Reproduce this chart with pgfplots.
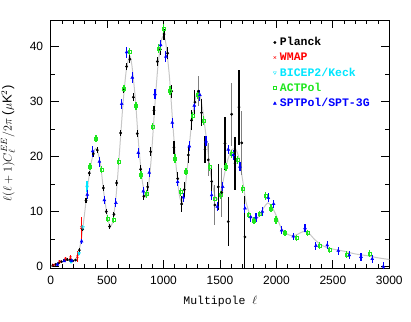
\documentclass[border=0pt]{standalone}
\usepackage{pgfplots}
\pgfplotsset{compat=1.18}
\usepackage{fontspec}
\setmainfont{Liberation Sans}
\setmonofont{Liberation Mono}
\definecolor{actgreen}{RGB}{30,230,30}
\definecolor{bkcyan}{RGB}{0,230,255}
\definecolor{theory}{gray}{0.78}
\definecolor{planckgray}{gray}{0.5}

\begin{document}
\begin{tikzpicture}
\path[use as bounding box] (-50.7pt,-53pt) rectangle (360.3pt,268pt);
\begin{axis}[
    scale only axis,
    width=338.6pt, height=248pt,
    xmin=0, xmax=3000, ymin=-0.25, ymax=44.85,
    xtick={0,500,...,3000}, minor x tick num=4,
    ytick={0,10,...,40}, minor y tick num=1,
    tick pos=both, tick align=inside,
    major tick length=8pt, minor tick length=4pt,
    axis line style={line width=0.9pt},
    every tick/.style={black, line width=0.8pt},
    /pgf/number format/assume math mode=true,
    /pgf/number format/set thousands separator={},
    scaled ticks=false,
    xticklabel style={font=\fontsize{12}{12}\selectfont, yshift=-5pt},
    yticklabel style={font=\fontsize{12}{12}\selectfont, xshift=-4pt},
    xlabel={\ttfamily Multipole $\ell$},
    xlabel style={font=\fontsize{11.5}{12}\selectfont, at={(axis description cs:0.501,-0.137)}, anchor=center},
    ylabel={$\ell(\ell+1)C_\ell^{EE}/2\pi$ ($\mu$K$^2$)},
    ylabel style={font=\fontsize{13}{13}\selectfont, at={(axis description cs:-0.126,0.502)}, anchor=center},
    legend style={draw=none, fill=none, at={(axis description cs:0.648,0.944)}, anchor=north west,
        font=\ttfamily\bfseries\fontsize{11.5}{12}\selectfont, row sep=2.6pt,
        nodes={inner sep=1.5pt}},
    legend cell align=left,
    legend image code/.code={\draw[#1] plot coordinates {(0cm,0cm)}; \path (0.12cm,0cm);},
    error bars/error bar style={line width=1.1pt},
]

% theory EE spectrum
\addplot[theory, line width=1pt, smooth, tension=0.4, forget plot] coordinates {
(2,0.05) (30,0.3) (60,0.5) (100,0.9) (140,1.2) (180,1.15) (210,1.1) (240,2.0)
(270,4.8) (300,9.6) (330,15.0) (360,19.0) (390,21.3) (410,21.3) (440,18.8)
(470,13.5) (500,9.3) (525,7.4) (550,8.2) (580,13.0) (610,21.0) (640,29.5)
(670,35.8) (700,38.3) (720,36.5) (750,30.5) (780,22.0) (810,15.8) (840,12.7)
(860,13.5) (890,19.5) (920,28.5) (950,36.5) (980,41.0) (1000,42.0) (1020,40.6)
(1050,35.0) (1080,26.5) (1110,18.5) (1140,13.0) (1165,11.6) (1190,14.0)
(1220,20.0) (1250,26.5) (1290,31.3) (1320,31.5) (1350,28.0) (1390,21.5)
(1420,16.5) (1460,12.5) (1490,12.5) (1520,14.8) (1560,18.8) (1600,21.2)
(1640,21.3) (1670,19.6) (1700,15.8) (1730,11.8) (1770,9.2) (1810,8.5)
(1850,9.3) (1890,10.8) (1925,11.6) (1960,10.9) (2000,9.2) (2040,7.1)
(2090,6.0) (2140,5.6) (2190,5.9) (2240,6.4) (2290,6.0) (2340,4.9)
(2400,3.9) (2460,3.4) (2520,3.1) (2600,2.8) (2700,2.3) (2800,2.0)
(2900,1.6) (3000,1.3)
};

% Planck
\addplot[black, only marks, mark=*, mark size=1.2pt,
    error bars/.cd, y dir=both, y explicit, error mark=none] coordinates {
(20,0.25) +- (0,0.15) (45,0.4) +- (0,0.15) (70,0.65) +- (0,0.15) (95,0.9) +- (0,0.2)
(120,1.2) +- (0,0.2) (145,1.3) +- (0,0.2) (170,1.15) +- (0,0.2) (195,1.05) +- (0,0.2)
(220,1.2) +- (0,0.25) (254,3.0) +- (0,0.3) (283,6.8) +- (0,0.35) (313,12.0) +- (0,0.4)
(342,17.0) +- (0,0.45) (378,20.5) +- (0,0.5) (413,21.2) +- (0,0.5) (466,14.3) +- (0,0.5)
(493,10.0) +- (0,0.5) (522,7.3) +- (0,0.5) (560,9.5) +- (0,0.5) (584,15.2) +- (0,0.5)
(620,24.3) +- (0,0.6) (643,32.1) +- (0,0.6) (673,36.4) +- (0,0.7) (702,37.7) +- (0,0.7)
(732,30.8) +- (0,0.7) (767,24.2) +- (0,0.7) (797,17.7) +- (0,0.7) (826,12.8) +- (0,0.7)
(859,14.5) +- (0,0.8) (886,20.9) +- (0,0.8) (915,28.4) +- (0,0.9) (945,37.3) +- (0,0.9)
(971,39.5) +- (0,1.0) (1004,42.3) +- (0,1.0) (1036,38.8) +- (0,1.1) (1072,31.9) +- (0,1.2)
(1092,21.7) +- (0,1.2) (1125,16.0) +- (0,1.2) (1160,11.4) +- (0,1.5) (1184,14.0) +- (0,1.3)
(1219,20.3) +- (0,1.5) (1248,26.6) +- (0,1.8) (1278,29.9) +- (0,2.2) (1337,28.0) +- (0,2.4)
(1367,21.3) +- (0,2.5) (1426,15.5) +- (0,3.0) (1485,14.5) +- (0,4.2) (1544,22.4) +- (0,4.8)
(1573,8.2) +- (0,4.5) (1633,18.8) +- (0,4.8) (1668,29.0) +- (0,6.8) (1721,5.4) +- (0,7.5)
};
\addlegendentry{Planck}

% WMAP
\addplot[red, only marks, mark=x, mark size=1.8pt,
    error bars/.cd, y dir=both, y explicit, error mark=none] coordinates {
(25,0.3) +- (0,0.2) (80,0.9) +- (0,0.3) (130,1.4) +- (0,0.35) (175,1.6) +- (0,0.5)
(236,1.8) +- (0,1.0) (272,7.1) +- (0,2.0)
};
\addlegendentry{\textcolor{red}{WMAP}}

% BICEP2/Keck
\addplot[bkcyan, only marks, mark=triangle, mark size=1.8pt, mark options={rotate=180},
    error bars/.cd, y dir=both, y explicit, error mark=none] coordinates {
(180,0.9) +- (0,0.2) (251,2.4) +- (0,0.3) (285,7.1) +- (0,0.4) (322,14.5) +- (0,1.0)
};
\addlegendentry{\textcolor{bkcyan}{BICEP2/Keck}}

% ACTPol
\addplot[actgreen, only marks, mark=square, mark size=1.5pt,
    error bars/.cd, y dir=both, y explicit, error mark=none] coordinates {
(348,18.2) +- (0,0.6) (401,23.3) +- (0,0.6) (452,17.7) +- (0,0.6) (502,8.7) +- (0,0.6)
(554,8.5) +- (0,0.6) (599,19.1) +- (0,0.6) (649,32.4) +- (0,0.7) (702,39.1) +- (0,0.7)
(756,29.2) +- (0,0.7) (800,16.7) +- (0,0.7) (850,13.2) +- (0,0.7) (903,25.5) +- (0,0.7)
(953,39.7) +- (0,0.8) (998,43.3) +- (0,0.8) (1057,32.0) +- (0,0.8) (1101,19.7) +- (0,0.8)
(1152,13.6) +- (0,0.7) (1199,17.3) +- (0,0.7) (1254,27.4) +- (0,0.8) (1302,31.2) +- (0,0.8)
(1352,26.6) +- (0,0.8) (1405,18.1) +- (0,0.7) (1455,12.4) +- (0,0.7) (1506,13.0) +- (0,0.7)
(1553,18.1) +- (0,0.7) (1603,20.5) +- (0,0.7) (1653,19.4) +- (0,0.7) (1697,14.1) +- (0,0.7)
(1751,9.4) +- (0,0.6) (1801,8.4) +- (0,0.6) (1848,9.6) +- (0,0.6) (1902,12.9) +- (0,0.7)
(1952,10.6) +- (0,0.7) (1996,8.5) +- (0,0.7) (2076,6.1) +- (0,0.6) (2176,5.2) +- (0,0.6)
(2275,6.1) +- (0,0.6) (2380,3.8) +- (0,0.6) (2474,3.0) +- (0,0.6) (2622,2.2) +- (0,0.6)
(2823,2.4) +- (0,0.6)
};
\addlegendentry{\textcolor{actgreen}{ACTPol}}

% SPTPol / SPT-3G
\addplot[blue, only marks, mark=triangle*, mark size=1.7pt,
    error bars/.cd, y dir=both, y explicit, error mark=none] coordinates {
(60,0.4) +- (0,0.2) (120,1.0) +- (0,0.2) (186,1.1) +- (0,0.25) (274,4.6) +- (0,0.4)
(324,13.1) +- (0,0.8) (372,21.0) +- (0,1.0) (431,19.1) +- (0,0.9) (475,12.1) +- (0,0.8)
(578,11.6) +- (0,0.8) (629,29.6) +- (0,0.9) (673,39.0) +- (0,1.0) (723,34.4) +- (0,1.0)
(776,20.7) +- (0,0.9) (820,13.7) +- (0,0.8) (873,17.1) +- (0,0.8) (924,31.4) +- (0,0.9)
(974,40.3) +- (0,1.0) (1021,38.2) +- (0,1.0) (1077,26.2) +- (0,0.9) (1125,15.4) +- (0,0.8)
(1175,12.6) +- (0,0.8) (1228,21.9) +- (0,0.9) (1272,29.3) +- (0,0.9) (1322,31.2) +- (0,1.0)
(1376,22.8) +- (0,0.9) (1426,13.0) +- (0,0.8) (1476,10.9) +- (0,0.8) (1524,14.5) +- (0,0.8)
(1573,21.3) +- (0,0.9) (1617,20.3) +- (0,0.9) (1677,18.2) +- (0,0.9) (1721,10.6) +- (0,0.8)
(1772,9.0) +- (0,0.8) (1819,9.0) +- (0,0.8) (1875,10.0) +- (0,0.8) (1928,12.5) +- (0,0.8)
(1975,11.4) +- (0,0.8) (2046,6.6) +- (0,0.7) (2149,5.5) +- (0,0.7) (2253,7.0) +- (0,0.7)
(2350,3.8) +- (0,0.7) (2450,3.9) +- (0,0.7) (2548,2.9) +- (0,0.7) (2645,2.1) +- (0,0.7)
(2749,1.8) +- (0,0.7) (2849,1.4) +- (0,0.8) (2947,0.0) +- (0,0.8)
};
\addlegendentry{\textcolor{blue}{SPTPol/SPT-3G}}

% Planck points drawn with grey bars
\addplot[black, only marks, mark=*, mark size=1.2pt, forget plot,
    error bars/.cd, y dir=both, y explicit, error mark=none,
    error bar style={planckgray, line width=1.1pt}] coordinates {
(1308,31.9) +- (0,2.7) (1396,19.4) +- (0,3.0) (1455,11.2) +- (0,3.6)
(1515,13.5) +- (0,4.4) (1603,27.7) +- (0,5.7) (1692,22.5) +- (0,5.8)
};

\end{axis}
\end{tikzpicture}
\end{document}
